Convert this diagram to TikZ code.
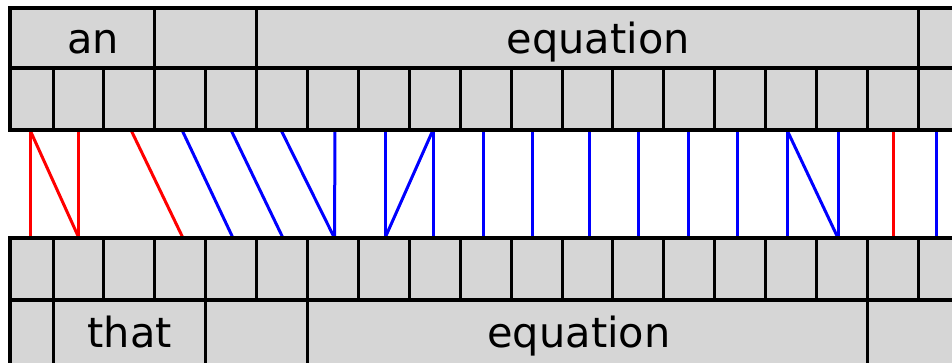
\documentclass[tikz,border=0pt]{standalone}
\usepackage{fontspec}
\setmainfont{DejaVu Sans}
\usetikzlibrary{backgrounds}
\definecolor{cellgray}{HTML}{D6D6D6}
\begin{document}
\begin{tikzpicture}[x=1pt,y=-1pt,
  cell/.style={rectangle, draw=black, fill=cellgray, line width=3pt, inner sep=0pt, outer sep=0pt, anchor=north west},
  charcell/.style={cell, minimum height=62pt},
  wordcell/.style={cell, minimum height=#1},
  frame/.style={draw=black, line width=4pt, line cap=rect},
  wordtext/.style={anchor=base, inner sep=0pt, font=\fontsize{41.5}{50}\selectfont},
  conn/.style={line width=3pt}]
\useasboundingbox (0,0) rectangle (952,362);
\clip (0,0) rectangle (952,362);
% top word row
\node[wordcell=60pt, minimum width=144.8pt] (tw0) at (10,8) {};
\node[wordcell=60pt, minimum width=101.8pt] (tw1) at (154.8,8) {};
\node[wordcell=60pt, minimum width=661.7pt] (tw2) at (256.6,8) {};
\node[wordcell=60pt, minimum width=101.7pt] (tw3) at (918.3,8) {};
% top char row
\node[charcell, minimum width=43pt] (t0) at (10,68) {};
\foreach \i in {1,...,19} {
  \node[charcell, minimum width=50.9pt] (t\i) at ({53+50.9*(\i-1)},68) {};
}
% bottom char row
\node[charcell, minimum width=43pt] (b0) at (10,238) {};
\foreach \i in {1,...,19} {
  \node[charcell, minimum width=50.9pt] (b\i) at ({53+50.9*(\i-1)},238) {};
}
% bottom word row
\node[wordcell=65pt, minimum width=43pt] (bw0) at (10,300) {};
\node[wordcell=65pt, minimum width=152.7pt] (bw1) at (53,300) {};
\node[wordcell=65pt, minimum width=101.8pt] (bw2) at (205.7,300) {};
\node[wordcell=65pt, minimum width=559.9pt] (bw3) at (307.5,300) {};
\node[wordcell=65pt, minimum width=152.6pt] (bw4) at (867.4,300) {};
% frames
\draw[frame] (tw0.north west) -- (tw3.north east);
\draw[frame] (t0.north west) -- (t19.north east);
\draw[frame] (t0.south west) -- (t19.south east);
\draw[frame] (tw0.north west) -- (t0.south west);
\draw[frame] (b0.north west) -- (b19.north east);
\draw[frame] (bw0.north west) -- (bw4.north east);
\draw[frame] (b0.north west) -- (bw0.south west);
% words
\node[wordtext] (an) at (93.2,53) {an};
\node[wordtext] (eqtop) at (598.3,53) {equation};
\node[wordtext] (that) at (129.8,347) {that};
\node[wordtext] (eqbot) at (579,347) {equation};
% connectors
\begin{scope}[on background layer]
\foreach \ti/\ts/\bi/\bs/\c in {
  0/-1.5/0/-1.5/red, 0/-1.5/1/0.5/red, 1/0.5/1/0.5/red, 2/1.65/3/2.75/red,
  3/1.75/4/1.85/blue, 4/-0.15/5/0.95/blue, 5/-1.05/6/1.55/blue, 6/2.05/6/1.55/blue,
  7/1.15/7/1.15/blue, 8/-1.75/7/1.15/blue, 8/-1.75/8/-1.75/blue,
  9/-2.65/9/-2.65/blue, 10/-4.55/10/-4.55/blue, 11/1.55/11/1.55/blue,
  12/-0.35/12/-0.35/blue, 13/-1.25/13/-1.25/blue, 14/-3.15/14/-3.15/blue,
  15/-4.05/15/-4.05/blue, 15/-4.05/16/-3.95/blue, 16/-3.95/16/-3.95/blue,
  17/0.15/17/0.15/red, 18/-7.75/18/-7.75/blue} {
  \draw[conn, \c] ([xshift=\ts pt]t\ti.south) -- ([xshift=\bs pt]b\bi.north);
}
\end{scope}
\end{tikzpicture}
\end{document}
